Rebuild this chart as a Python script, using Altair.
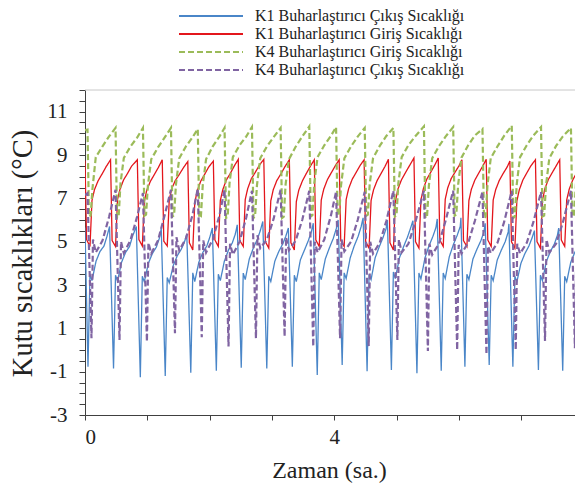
import altair as alt
import pandas as pd

series_names = ["K1 Buharlaştırıcı Çıkış Sıcaklığı", "K1 Buharlaştırıcı Giriş Sıcaklığı",
                "K4 Buharlaştırıcı Giriş Sıcaklığı", "K4 Buharlaştırıcı Çıkış Sıcaklığı"]
series_colors = ["#4a86c8", "#e3161c", "#9bbb59", "#8064a2"]
series_dash = [[1, 0], [1, 0], [6, 3], [6, 3]]

# ---- K1 cabinet (red = inlet, blue = outlet): time (h) of each defrost drop
k1_cycle_t = [0.00, 0.41, 0.84, 1.24, 1.65, 2.06, 2.46, 2.87, 3.28, 3.68,
              4.08, 4.48, 4.87, 5.28, 5.67, 6.05, 6.44, 6.82, 7.23, 7.62]
red_offsets = [0.0, 0.025, 0.08, 0.112, 0.152, 0.209, 0.273, 0.337]
red_cycles = [
    [8.75, 5.10, 4.78, 6.90, 7.40, 7.80, 8.12, 8.45],
    [8.78, 5.05, 4.78, 6.95, 7.42, 7.85, 8.15, 8.48],
    [8.78, 5.10, 4.80, 6.85, 7.38, 7.78, 8.10, 8.42],
    [8.78, 5.02, 4.80, 6.92, 7.45, 7.82, 8.10, 8.40],
    [8.70, 4.95, 4.62, 6.80, 7.35, 7.80, 8.12, 8.45],
    [8.72, 5.08, 4.78, 6.90, 7.40, 7.85, 8.15, 8.50],
    [8.80, 5.05, 4.78, 6.95, 7.45, 7.90, 8.20, 8.52],
    [8.80, 5.00, 4.70, 6.88, 7.40, 7.82, 8.12, 8.45],
    [8.78, 4.95, 4.62, 6.85, 7.38, 7.80, 8.15, 8.48],
    [8.78, 5.08, 4.78, 6.92, 7.42, 7.85, 8.18, 8.50],
    [8.78, 5.05, 4.78, 6.95, 7.45, 7.88, 8.20, 8.52],
    [8.78, 5.00, 4.70, 6.90, 7.40, 7.82, 8.15, 8.48],
    [8.80, 4.95, 4.62, 6.85, 7.42, 7.85, 8.18, 8.50],
    [8.86, 5.00, 4.70, 6.92, 7.45, 7.90, 8.22, 8.55],
    [8.86, 5.08, 4.78, 6.95, 7.48, 7.92, 8.22, 8.52],
    [8.78, 5.05, 4.78, 6.90, 7.42, 7.85, 8.18, 8.50],
    [8.80, 5.08, 4.78, 6.92, 7.40, 7.82, 8.15, 8.45],
    [8.72, 5.00, 4.70, 6.88, 7.40, 7.85, 8.18, 8.50],
    [8.78, 5.00, 4.70, 6.90, 7.45, 7.88, 8.20, 8.52],
    [8.78, 5.08, 4.78, 6.92, 7.42, 7.85, 8.18, 8.48],
]
red_end = [8.0, 8.72]

blue_offsets = [-0.016, 0.048, 0.08, 0.112, 0.177, 0.241, 0.305, 0.353]
blue_cycles = [
    [5.65, -0.77, 3.50, 3.20, 4.10, 4.55, 4.80, 5.25],
    [5.70, -0.85, 3.45, 3.18, 4.05, 4.50, 4.78, 5.25],
    [5.70, -1.26, 3.40, 3.15, 4.00, 4.45, 4.75, 5.15],
    [5.62, -1.20, 3.35, 3.10, 3.90, 4.35, 4.65, 4.95],
    [5.35, -1.05, 3.56, 3.16, 4.05, 4.50, 4.80, 5.20],
    [5.63, -0.96, 3.50, 3.20, 4.10, 4.60, 4.95, 5.35],
    [5.78, -0.82, 3.55, 3.25, 4.20, 4.70, 5.10, 5.50],
    [5.93, -0.85, 3.40, 3.16, 4.10, 4.55, 4.90, 5.25],
    [5.63, -0.77, 3.45, 3.16, 4.16, 4.60, 5.05, 5.45],
    [5.85, -1.15, 3.56, 3.25, 4.20, 4.70, 5.15, 5.60],
    [6.00, -0.69, 3.56, 3.30, 4.25, 4.80, 5.25, 5.70],
    [6.10, -0.98, 3.50, 3.25, 4.25, 4.75, 5.20, 5.60],
    [6.00, -0.92, 3.60, 3.30, 4.25, 4.75, 5.20, 5.60],
    [5.97, -1.07, 3.55, 3.28, 4.25, 4.80, 5.25, 5.65],
    [6.05, -0.96, 3.55, 3.30, 4.30, 4.85, 5.30, 5.70],
    [6.10, -0.77, 3.50, 3.25, 4.20, 4.65, 5.05, 5.45],
    [5.85, -0.69, 3.45, 3.20, 4.15, 4.60, 5.00, 5.45],
    [5.82, -0.77, 3.40, 3.15, 4.00, 4.45, 4.80, 5.15],
    [5.51, -0.92, 3.45, 3.20, 4.10, 4.55, 4.90, 5.30],
    [5.63, -0.96, 3.40, 3.15, 4.05, 4.50, 4.85, 5.25],
]
blue_end = [8.0, 5.50]

# ---- K4 cabinet (green = inlet, purple = outlet): time (h) of each drop
k4_cycle_t = [0.04, 0.49, 0.93, 1.38, 1.81, 2.24, 2.68, 3.14, 3.60,
              4.03, 4.49, 4.95, 5.44, 5.91, 6.38, 6.85, 7.32, 7.80]
green_start = [0.0, 10.15]
green_offsets = [0.0, 0.024, 0.05, 0.08, 0.133, 0.241, 0.347]
green_cycles = [
    [10.17, 6.16, 6.20, 7.45, 8.90, 9.40, 9.86],
    [10.25, 6.09, 6.15, 7.70, 8.86, 9.40, 9.80],
    [10.25, 6.20, 6.25, 7.60, 8.80, 9.35, 9.80],
    [10.25, 6.16, 6.22, 7.65, 8.85, 9.40, 9.82],
    [10.20, 6.09, 6.15, 7.60, 8.80, 9.40, 9.85],
    [10.25, 6.09, 6.15, 7.70, 8.90, 9.45, 9.85],
    [10.29, 6.09, 6.18, 7.60, 8.85, 9.40, 9.82],
    [10.25, 6.09, 6.15, 7.65, 8.80, 9.38, 9.85],
    [10.32, 6.16, 6.22, 7.70, 8.90, 9.45, 9.88],
    [10.29, 6.20, 6.25, 7.60, 8.85, 9.40, 9.85],
    [10.25, 6.20, 6.25, 7.65, 8.85, 9.42, 9.88],
    [10.25, 6.16, 6.20, 7.70, 8.90, 9.45, 9.85],
    [10.32, 6.09, 6.15, 7.60, 8.85, 9.40, 9.85],
    [10.29, 6.20, 6.25, 7.65, 8.88, 9.45, 9.90],
    [10.20, 6.09, 6.15, 7.60, 8.85, 9.40, 9.88],
    [10.35, 6.09, 6.15, 7.65, 8.90, 9.45, 9.90],
    [10.29, 6.16, 6.20, 7.60, 8.85, 9.42, 9.85],
    [10.25, 6.16, 6.20, 7.65, 8.85, 9.40, 9.85],
]

purple_start = [0.0, 7.15]
purple_offsets = [0.0, 0.064, 0.088, 0.133, 0.241, 0.347]
purple_cycles = [
    [7.24, 0.54, 5.10, 4.50, 5.05, 6.15],
    [7.40, 0.46, 5.00, 4.47, 5.08, 6.16],
    [7.24, 0.39, 4.95, 4.45, 5.05, 6.20],
    [7.40, 0.77, 5.20, 4.60, 5.15, 6.25],
    [7.45, 0.59, 5.05, 4.50, 5.10, 6.20],
    [7.40, 0.16, 4.90, 4.40, 5.00, 6.10],
    [7.35, 0.54, 5.30, 4.70, 5.10, 6.05],
    [7.40, 0.62, 5.20, 4.60, 5.05, 6.00],
    [7.35, 0.16, 5.00, 4.50, 5.10, 6.20],
    [7.30, 0.54, 5.10, 4.55, 5.00, 6.00],
    [7.30, 0.18, 5.00, 4.45, 4.95, 5.95],
    [7.35, 0.46, 5.10, 4.50, 4.90, 5.85],
    [7.35, -0.05, 4.90, 4.40, 4.90, 5.95],
    [7.35, 0.00, 4.85, 4.45, 4.95, 5.95],
    [7.30, -0.20, 4.80, 4.47, 4.95, 5.90],
    [7.35, 0.00, 4.90, 4.45, 4.95, 5.90],
    [7.30, 0.42, 5.10, 4.50, 4.90, 5.85],
    [7.35, 0.08, 5.00, 4.60, 5.00, 6.00],
]

x_tick_values = [0, 1, 2, 3, 4, 5, 6, 7, 8]
y_tick_values = [-3 + 0.5 * k for k in range(31)]

# ---- build the long table
rows = []


def add(name, cycle_t, offsets, cycles, start=None, end=None):
    if start is not None:
        rows.append({"series": name, "t": start[0], "v": start[1]})
    for t0, vals in zip(cycle_t, cycles):
        for off, val in zip(offsets, vals):
            rows.append({"series": name, "t": max(0.0, t0 + off), "v": val})
    if end is not None:
        rows.append({"series": name, "t": end[0], "v": end[1]})


add(series_names[0], k1_cycle_t, blue_offsets, blue_cycles, end=blue_end)
add(series_names[1], k1_cycle_t, red_offsets, red_cycles, end=red_end)
add(series_names[2], k4_cycle_t, green_offsets, green_cycles, start=green_start)
add(series_names[3], k4_cycle_t, purple_offsets, purple_cycles, start=purple_start)
df = pd.DataFrame(rows)

FONT = "Liberation Serif"
W, H = 490, 325            # plot area; x scale 62.3 px per hour as in the reference
X_MAX = 490 / 62.3

x_enc = alt.X("t:Q",
              scale=alt.Scale(domain=[0, X_MAX], nice=False, zero=False),
              axis=alt.Axis(values=x_tick_values,
                            labelExpr="datum.value % 4 === 0 ? '' + datum.value : ''",
                            title="Zaman (sa.)", grid=False, tickSize=5, labelPadding=6,
                            labelFont=FONT, labelFontSize=21, labelColor="#222222",
                            titleFont=FONT, titleFontSize=24, titleFontWeight="normal",
                            titleColor="#222222",
                            titleX=244, titleY=55, titleBaseline="middle", titleAlign="center"))
y_enc = alt.Y("v:Q",
              scale=alt.Scale(domain=[-3, 12], nice=False, zero=False),
              axis=alt.Axis(values=y_tick_values,
                            labelExpr="(datum.value + 3) % 2 === 0 ? '' + datum.value : ''",
                            title="Kutu sıcaklıkları (°C)", grid=False, tickSize=6, labelPadding=12,
                            labelFont=FONT, labelFontSize=21, labelColor="#222222",
                            titleFont=FONT, titleFontSize=28.5, titleFontWeight="normal",
                            titleColor="#222222",
                            titleX=-63, titleY=163, titleAngle=270, titleAlign="center",
                            titleBaseline="middle"))
color_enc = alt.Color("series:N", scale=alt.Scale(domain=series_names, range=series_colors),
                      legend=alt.Legend(title=None))
dash_enc = alt.StrokeDash("series:N", scale=alt.Scale(domain=series_names, range=series_dash),
                          legend=alt.Legend(title=None))

base = alt.Chart(df)
solid = base.transform_filter(
    alt.FieldOneOfPredicate(field="series", oneOf=series_names[:2])
).mark_line(clip=True, strokeWidth=1.3).encode(x=x_enc, y=y_enc, color=color_enc, strokeDash=dash_enc)
dashed = base.transform_filter(
    alt.FieldOneOfPredicate(field="series", oneOf=series_names[2:])
).mark_line(clip=True, strokeWidth=2.2).encode(x=x_enc, y=y_enc, color=color_enc, strokeDash=dash_enc)

top_line = alt.Chart(pd.DataFrame({"k": [0]})).mark_rule(color="#c8c8c8", strokeWidth=1).encode(
    x=alt.value(0), x2=alt.value(W), y=alt.value(0)
)

chart = alt.layer(solid, dashed, top_line).properties(
    width=W, height=H,
    autosize=alt.AutoSizeParams(type="none"),
    padding={"left": 77, "top": 82, "right": 0, "bottom": 69},
    background="white",
).configure_view(stroke=None).configure_axis(
    domainColor="#404040", tickColor="#404040", domainWidth=1, tickWidth=1,
).configure_legend(
    orient="none", legendX=93, legendY=-82, direction="vertical",
    symbolType="stroke", symbolSize=4096, symbolStrokeWidth=1.8, clipHeight=16, rowPadding=2.0,
    labelFont=FONT, labelFontSize=16, labelColor="#222222", labelOffset=11, labelLimit=0,
    symbolOffset=0, padding=0,
)

chart.save("out.html", embed_options={"renderer": "svg", "actions": False})
